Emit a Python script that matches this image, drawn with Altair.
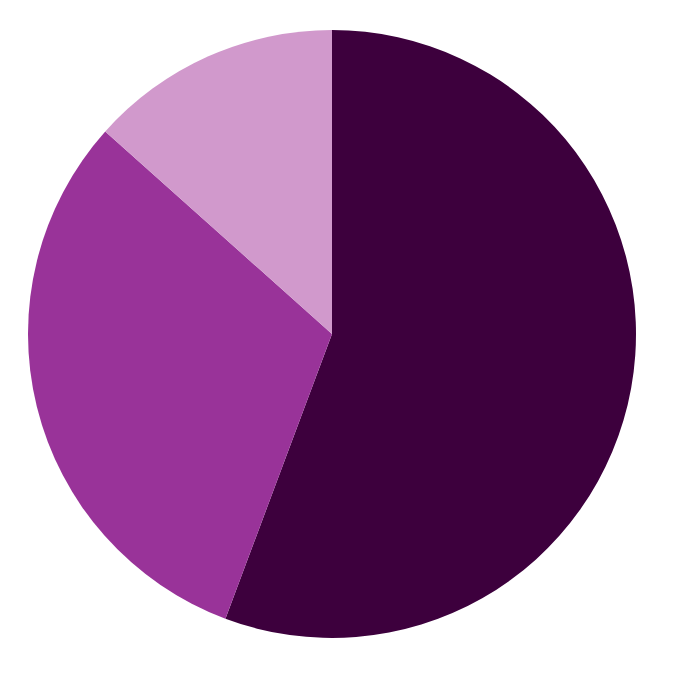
import altair as alt
import pandas as pd

categories = ["A", "B", "C"]
values = [55.7, 30.9, 13.4]
colors = ["#3d003d", "#993399", "#d199cc"]
order = [0, 1, 2]

df = pd.DataFrame({"category": categories, "value": values, "order": order})

chart = (
    alt.Chart(df)
    .mark_arc(radius=304, stroke=None)
    .encode(
        theta=alt.Theta("value:Q", stack=True),
        order=alt.Order("order:Q"),
        color=alt.Color(
            "category:N",
            scale=alt.Scale(domain=categories, range=colors),
            legend=None,
        ),
    )
    .properties(width=664, height=668, padding=0, autosize=alt.AutoSizeParams(type="none"))
    .configure_view(stroke=None)
)

chart.save("out.html", embed_options={"renderer": "svg", "actions": False})
